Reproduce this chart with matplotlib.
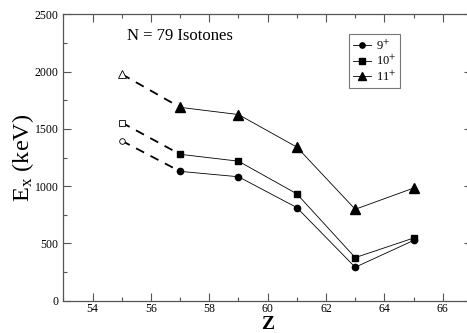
import matplotlib.pyplot as plt
from matplotlib.ticker import MultipleLocator

# Z values and excitation energies (keV) for N = 79 isotones
z = [55, 57, 59, 61, 63, 65]
e_9 = [1396, 1129, 1082, 813, 292, 526]
e_10 = [1555, 1278, 1218, 933, 376, 547]
e_11 = [1978, 1688, 1625, 1341, 798, 983]

plt.rcParams.update({
    "font.family": "serif",
    "font.serif": ["Liberation Serif", "DejaVu Serif"],
    "mathtext.fontset": "stix",
})

fig = plt.figure(figsize=(4.67, 3.33), dpi=100)
ax = fig.add_axes([0.1356, 0.097, 0.875, 0.860])

series = [(e_9, "o", 4.5, r"9$^{+}$"),
          (e_10, "s", 5, r"10$^{+}$"),
          (e_11, "^", 7, r"11$^{+}$")]

for vals, mk, ms, lab in series:
    # solid line through measured states
    ax.plot(z[1:], vals[1:], color="black", lw=0.6, marker=mk, ms=ms,
            mfc="black", mec="black", label=lab)
    # dashed extrapolation to Z=55
    ax.plot(z[:2], vals[:2], color="black", lw=1.3, ls=(0, (5, 4)))
    ax.plot(z[0], vals[0], marker=mk, ms=ms * 0.9, mfc="white",
            mec="black", mew=0.6, ls="none")

ax.set_xlim(53, 67)
ax.set_ylim(0, 2500)
ax.xaxis.set_major_locator(MultipleLocator(2))
ax.xaxis.set_minor_locator(MultipleLocator(1))
ax.yaxis.set_major_locator(MultipleLocator(500))
ax.yaxis.set_minor_locator(MultipleLocator(250))
ax.tick_params(which="both", direction="in", top=True, right=True,
               labelsize=8.5, width=0.8, color="#555555")
ax.tick_params(axis="x", pad=2)
ax.tick_params(which="major", length=6)
ax.tick_params(which="minor", length=3)
for s in ax.spines.values():
    s.set_linewidth(0.9)
    s.set_color("#555555")

ax.set_xlabel("Z", fontsize=14, fontweight="bold")
ax.xaxis.set_label_coords(0.5, -0.1127, transform=ax.transAxes)
ax.xaxis.label.set_va("bottom")
ax.set_ylabel(r"E$_{\mathregular{x}}$ (keV)", fontsize=17.5)
ax.yaxis.set_label_coords(-0.068, 0.5, transform=ax.transAxes)

ax.text(55.17, 2310, "N = 79 Isotones", fontsize=12, va="center")

leg = ax.legend(loc="upper left", bbox_to_anchor=(0.70, 0.93),
                fontsize=9, frameon=True, fancybox=False, handlelength=1.4,
                handletextpad=0.4, borderpad=0.3, labelspacing=0.1,
                markerscale=0.85, borderaxespad=0)
leg.get_frame().set_edgecolor("#555555")
leg.get_frame().set_linewidth(0.8)

fig.savefig("out.png", dpi=100)
